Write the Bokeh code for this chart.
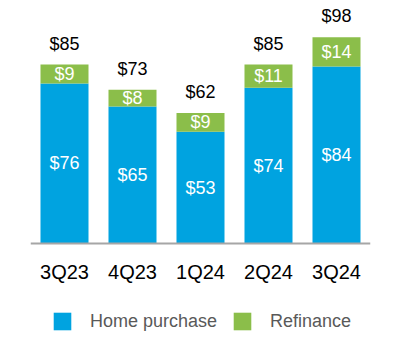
from bokeh.plotting import figure
from bokeh.models import ColumnDataSource, LabelSet, Legend, LegendItem, FactorRange, Span
from bokeh.core.properties import value
from bokeh.embed import file_html
from bokeh.resources import INLINE

quarters = ["3Q23", "4Q23", "1Q24", "2Q24", "3Q24"]
home_purchase = [76, 65, 53, 74, 84]
refinance = [9, 8, 9, 11, 14]
totals = [85, 73, 62, 85, 98]

BLUE = "#00A3E0"
GREEN = "#8BBE4A"
FONT = "Liberation Sans"

src = ColumnDataSource(dict(
    q=quarters,
    home=home_purchase,
    refi=refinance,
    total=totals,
    zero=[0] * len(quarters),
    home_mid=[h / 2 for h in home_purchase],
    refi_mid=[h + r / 2 for h, r in zip(home_purchase, refinance)],
    top=[h + r for h, r in zip(home_purchase, refinance)],
    home_lbl=["$%d" % v for v in home_purchase],
    refi_lbl=["$%d" % v for v in refinance],
    total_lbl=["$%d" % v for v in totals],
))

p = figure(x_range=FactorRange(*quarters), y_range=(-49.9, 115.4),
           width=384, height=348, output_backend="svg", toolbar_location=None,
           min_border_left=30, min_border_right=14, min_border_top=0, min_border_bottom=0)

r = p.vbar_stack(["home", "refi"], x="q", width=0.706, color=[BLUE, GREEN],
                 line_color=None, source=src)

p.add_layout(Span(location=0, dimension="width", line_color="#A6A6A6", line_width=2))

for ycol, tcol, col, off, fs in [("home_mid", "home_lbl", "white", 0, "18px"),
                                 ("refi_mid", "refi_lbl", "white", 0, "18px"),
                                 ("top", "total_lbl", "black", 21, "18px"),
                                 ("zero", "q", "black", -29, "20px")]:
    p.add_layout(LabelSet(x="q", y=ycol, text=tcol, source=src, y_offset=off,
                          text_align="center", text_baseline="middle",
                          text_color=col, text_font=value(FONT), text_font_size=fs))

p.xaxis.visible = False
p.yaxis.visible = False
p.xgrid.visible = False
p.ygrid.visible = False
p.outline_line_color = None
p.x_range.range_padding = 0

legend = Legend(items=[LegendItem(label="Home purchase", renderers=[r[0]]),
                       LegendItem(label="Refinance", renderers=[r[1]])],
                orientation="horizontal", location=(21, 16),
                glyph_width=22, glyph_height=22, label_standoff=17, spacing=14,
                padding=0, margin=0, border_line_color=None, background_fill_alpha=0,
                label_text_font=FONT, label_text_font_size="18px",
                label_text_color="#595959", label_height=22)
p.add_layout(legend, "center")

open("out.html", "w").write(file_html(p, INLINE))
